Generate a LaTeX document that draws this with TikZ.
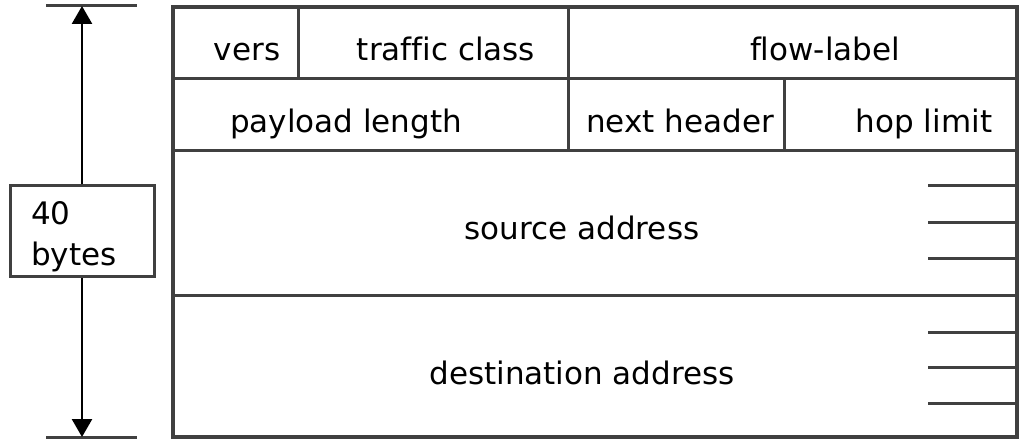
\documentclass[tikz,border=0pt]{standalone}
\usepackage{fontspec}
\setmainfont{DejaVu Sans}[Ligatures=NoCommon]
\usetikzlibrary{arrows.meta}
\begin{document}
\begin{tikzpicture}[x=1pt,y=-1pt,
  frame/.style={draw=black!75,line width=3.6pt},
  rule/.style={draw=black!75,line width=3pt},
  lbl/.style={inner sep=0pt,anchor=base,font=\fontsize{31}{36}\selectfont},
  dimarrow/.style={draw=black,line width=2.6pt,-{Triangle[width=20pt,length=18pt]}}]
\useasboundingbox (0,0) rectangle (1024,443);
% outer frame
\draw[frame] (173,7) rectangle (1017,437);
% row rules
\draw[rule] (173,79) -- (1017,79);
\draw[rule] (173,151) -- (1017,151);
\draw[rule] (173,295) -- (1017,295);
% column rules
\draw[rule] (298,7) -- (298,79);
\draw[rule] (568,7) -- (568,151);
\draw[rule] (784,79) -- (784,151);
% short ticks on right
\foreach \yy in {186,223,259,332,367,403} \draw[rule] (928,\yy) -- (1017,\yy);
% field labels
\node[lbl] (vers) at (247,61) {vers};
\node[lbl] (tc) at (446,61) {traffic class};
\node[lbl] (fl) at (825,61) {flow-label};
\node[lbl] (pl) at (346,133) {payload length};
\node[lbl] (nh) at (680,133) {next header};
\node[lbl] (hl) at (924,133) {hop limit};
\node[lbl] (src) at (582,240) {source address};
\node[lbl] (dst) at (582,384) {destination address};
% dimension
\coordinate (ttl) at (46,6);
\coordinate (ttr) at (137,6);
\coordinate (btl) at (46,437);
\coordinate (btr) at (137,437);
\coordinate (top) at (82,6);
\coordinate (bot) at (82,437);
\draw[rule] (ttl) -- (ttr);
\draw[rule] (btl) -- (btr);
\node[draw=black!75,line width=3pt,fill=white,minimum width=144pt,minimum height=91pt,inner sep=0pt] (box) at (82,231.5) {};
\node[lbl,anchor=base west] (n40) at (31,225) {40};
\node[lbl,anchor=base west] (bytes) at (31,266) {bytes};
\draw[dimarrow] (box.north) -- (top);
\draw[dimarrow] (box.south) -- (bot);
\end{tikzpicture}
\end{document}
